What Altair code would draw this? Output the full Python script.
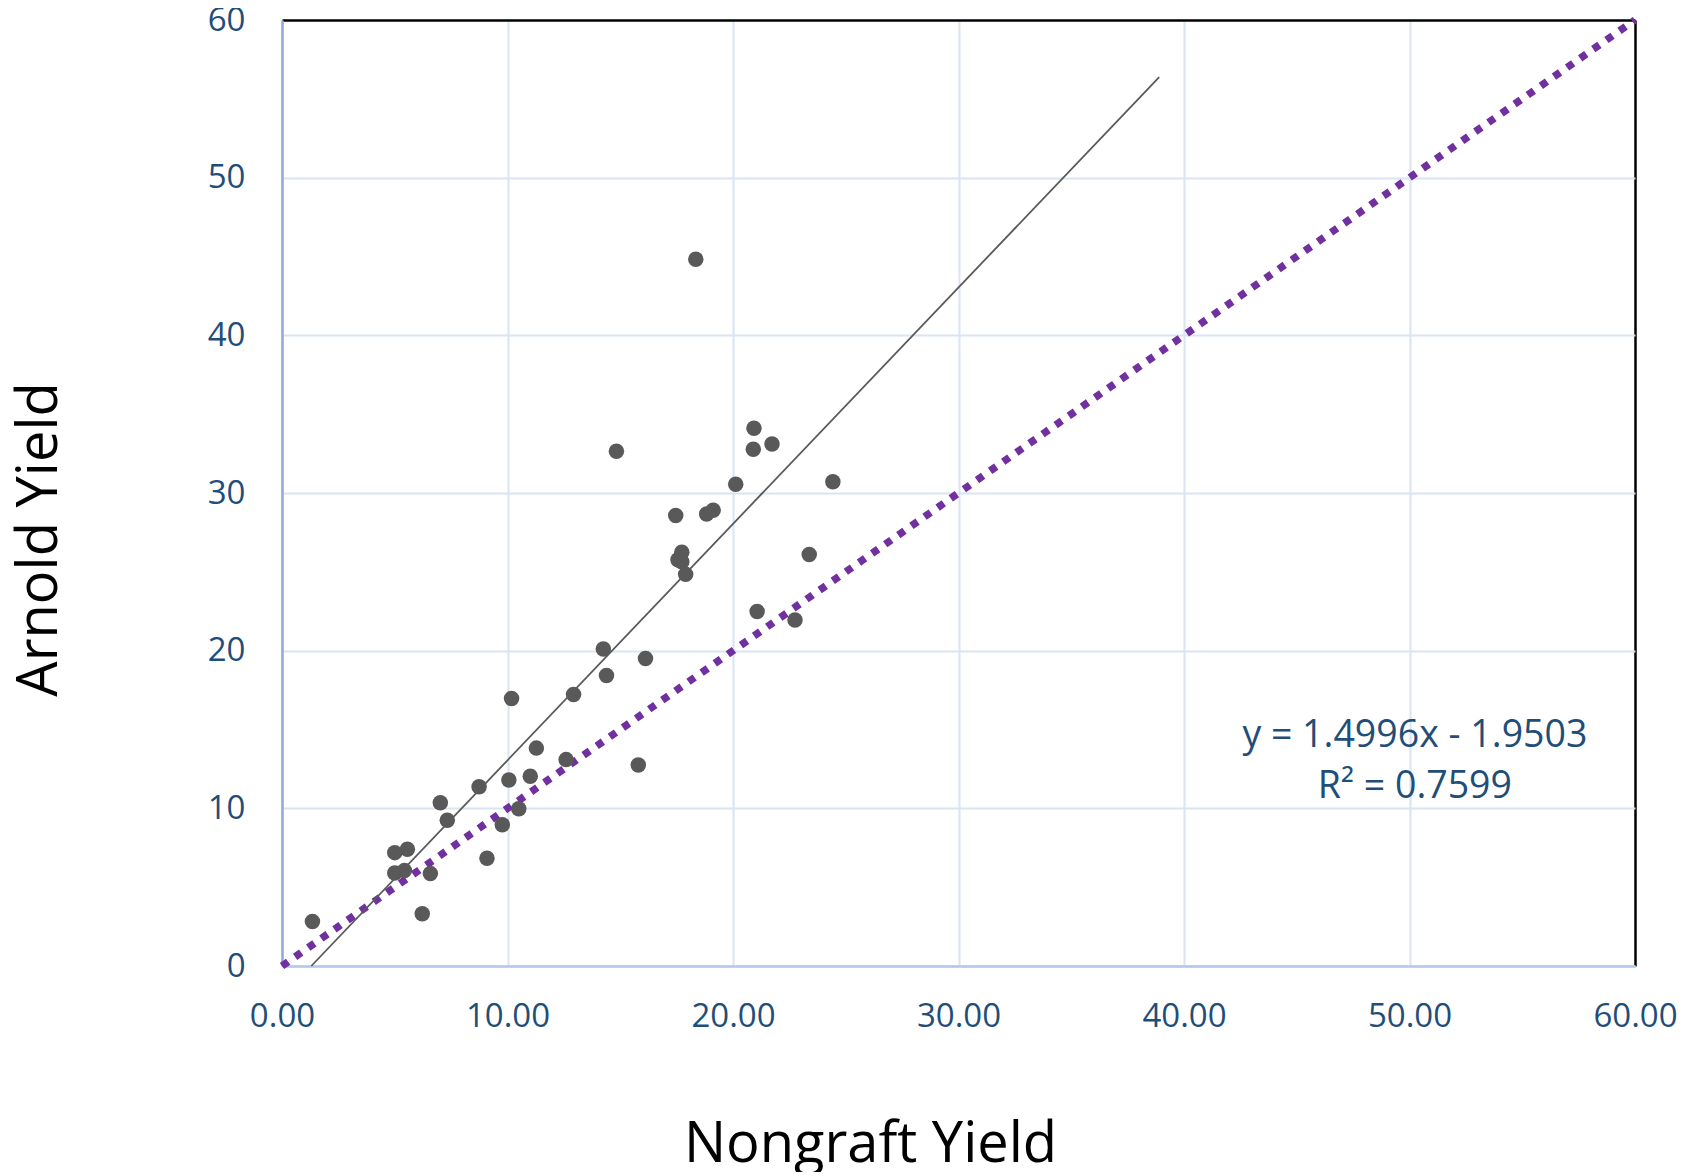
import altair as alt
import pandas as pd

# ---- data ----
nongraft = [1.35, 6.22, 5.00, 5.56, 5.00, 5.43, 6.58, 7.02, 7.33, 8.74,
            9.09, 9.77, 10.50, 10.06, 10.18, 11.01, 11.28, 12.60, 12.93, 14.25,
            14.39, 14.83, 15.80, 16.12, 17.46, 17.56, 17.73, 17.73, 17.90, 18.35,
            18.83, 19.12, 20.12, 20.90, 20.93, 21.07, 21.73, 22.75, 23.38, 24.43]
arnold = [2.82, 3.31, 7.19, 7.41, 5.90, 6.05, 5.86, 10.35, 9.25, 11.37,
          6.83, 8.96, 9.98, 11.80, 16.97, 12.03, 13.82, 13.09, 17.22, 20.11,
          18.43, 32.65, 12.75, 19.50, 28.57, 25.76, 26.25, 25.64, 24.84, 44.82,
          28.67, 28.91, 30.56, 32.77, 34.11, 22.48, 33.11, 21.95, 26.10, 30.71]

trend_x = [1.30, 38.90]
trend_y = [0.00, 56.38]

ref_x = [0, 60]
ref_y = [0, 60]

eq_text = ["y = 1.4996x - 1.9503", "R\u00b2 = 0.7599"]
eq_x = [50.24, 50.24]
eq_y = [13.90, 10.66]

x_ticks = [0, 10, 20, 30, 40, 50, 60]
y_ticks = [0, 10, 20, 30, 40, 50, 60]

# ---- tables ----
pts = pd.DataFrame({"x": nongraft, "y": arnold})
trend = pd.DataFrame({"x": trend_x, "y": trend_y})
ref = pd.DataFrame({"x": ref_x, "y": ref_y})
eq = pd.DataFrame({"x": eq_x, "y": eq_y, "t": eq_text})

FONT = "Open Sans"
LABEL_COLOR = "#1F4E79"
GRID_COLOR = "#D9E4F4"

grid_color = {"condition": {"test": "datum.value == 60", "value": "#000000"}, "value": GRID_COLOR}
grid_width = {"condition": {"test": "datum.value == 60", "value": 2.5}, "value": 2}

x_axis = alt.Axis(
    values=x_ticks, format=".2f", title="Nongraft Yield",
    grid=True, gridColor=grid_color, gridWidth=grid_width,
    domainColor="#B4C7E7", domainWidth=2.5, ticks=False,
    labelPadding=34, labelFont=FONT, labelFontSize=33, labelColor=LABEL_COLOR,
    labelFlush=False, labelOverlap=False,
    titleFont=FONT, titleFontSize=56, titleFontWeight="normal", titleColor="#000000",
    titleX=588, titleY=195, titleBaseline="alphabetic", titleAlign="center",
)
y_axis = alt.Axis(
    values=y_ticks, format="d", title="Arnold Yield",
    grid=True, gridColor=grid_color, gridWidth=grid_width,
    domainColor="#8FAADC", domainWidth=2.5, ticks=False,
    labelPadding=37, labelFont=FONT, labelFontSize=33, labelColor=LABEL_COLOR,
    labelFlush=False, labelOverlap=False,
    titleFont=FONT, titleFontSize=56, titleFontWeight="normal", titleColor="#000000",
    titleX=-226, titleY=519, titleBaseline="alphabetic", titleAlign="center", titleAngle=270,
)

xs = alt.Scale(domain=[0, 60], nice=False, zero=False)
ys = alt.Scale(domain=[0, 60], nice=False, zero=False)
X = alt.X("x:Q", scale=xs, axis=x_axis)
Y = alt.Y("y:Q", scale=ys, axis=y_axis)

ref_line = alt.Chart(ref).mark_line(
    color="#7030A0", strokeWidth=7.5, strokeDash=[7.5, 8.5], strokeCap="butt"
).encode(x=X, y=Y)

trend_line = alt.Chart(trend).mark_line(color="#595959", strokeWidth=1.8).encode(x=X, y=Y)

points = alt.Chart(pts).mark_circle(size=240, color="#595959", opacity=1).encode(x=X, y=Y)

eq_label = alt.Chart(eq).mark_text(
    align="center", baseline="alphabetic", font=FONT, fontSize=37.5, color=LABEL_COLOR
).encode(x=X, y=Y, text="t:N")

chart = alt.layer(ref_line, trend_line, points, eq_label).properties(
    width=1353, height=946,
    padding={"left": 274, "top": 12, "right": 55, "bottom": 206},
    autosize=alt.AutoSizeParams(type="none"),
    background="white",
).configure_view(strokeWidth=0)

chart.save("out.html", embed_options={"renderer": "svg", "actions": False})
